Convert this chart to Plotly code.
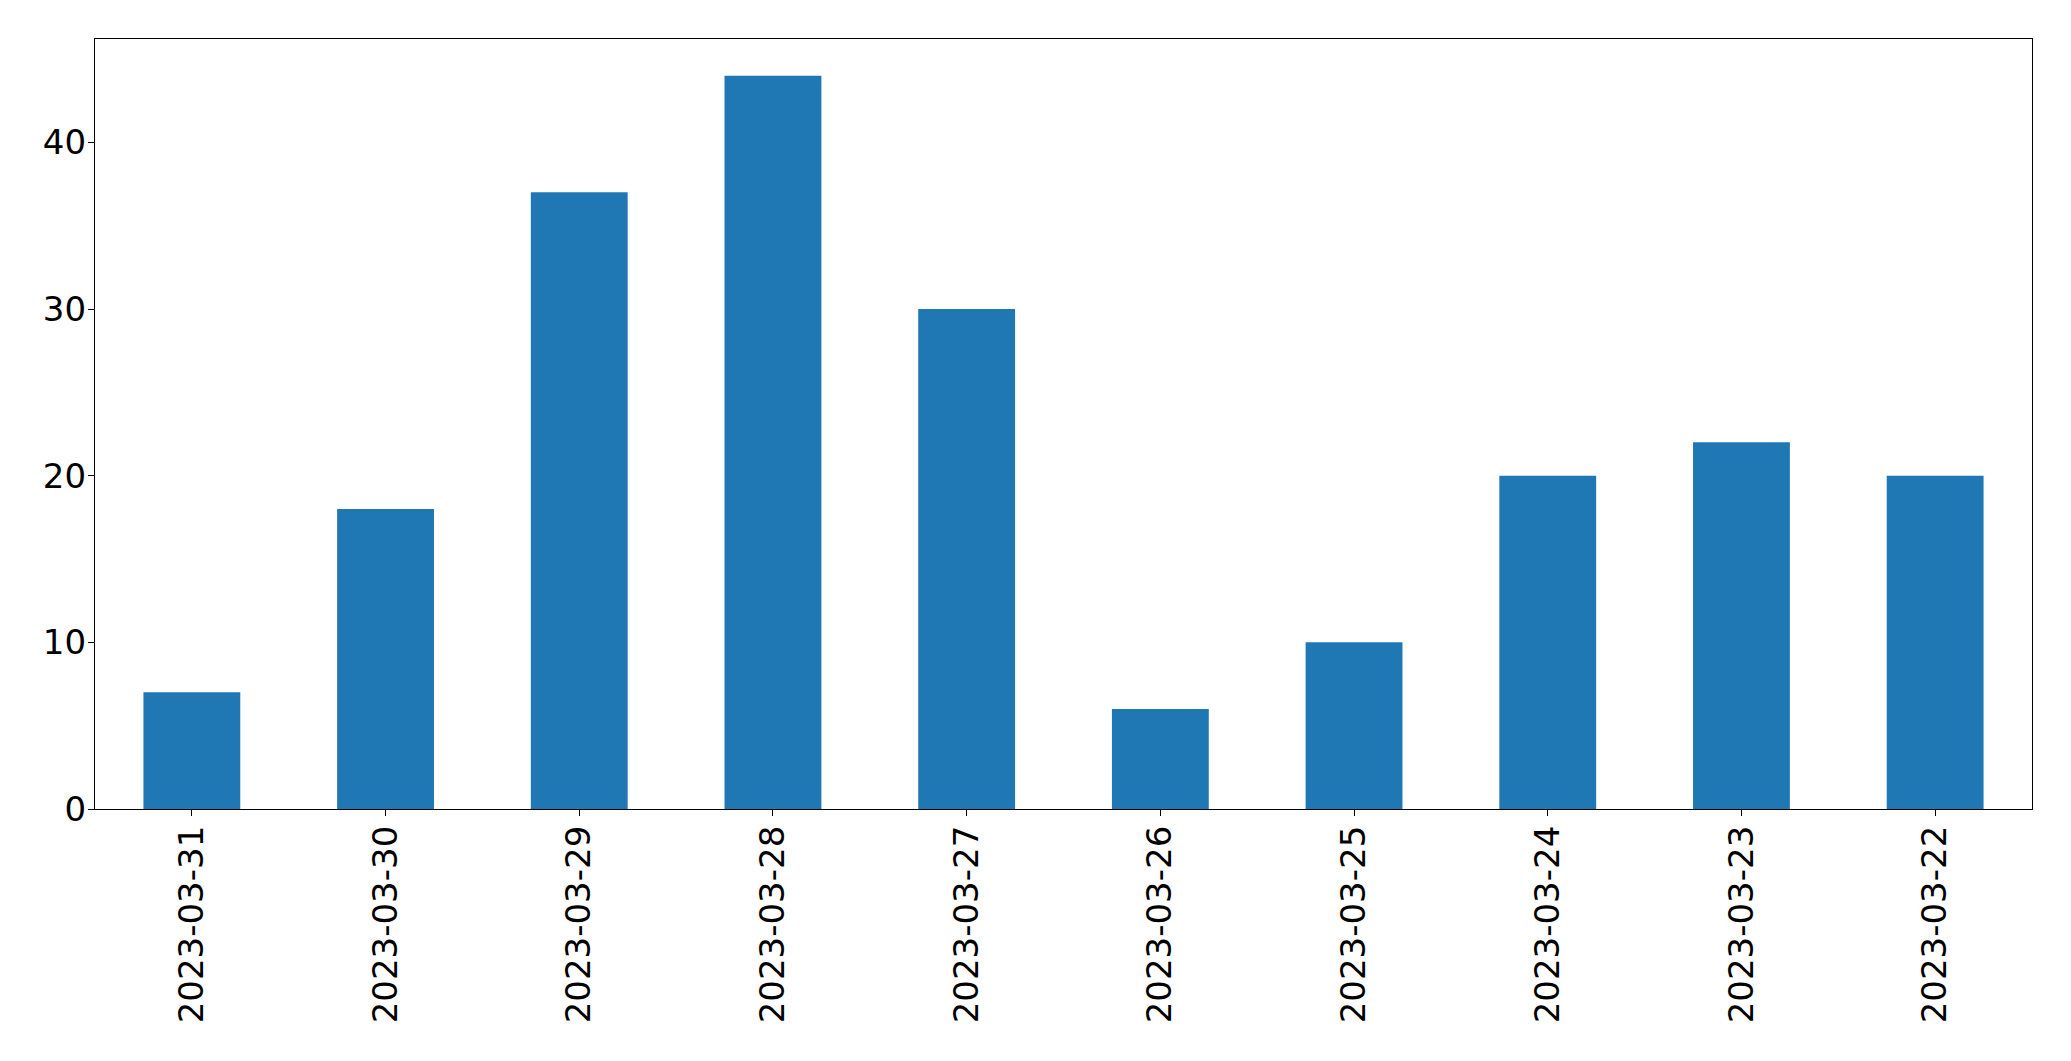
import plotly.graph_objects as go

dates = ["2023-03-31", "2023-03-30", "2023-03-29", "2023-03-28", "2023-03-27",
         "2023-03-26", "2023-03-25", "2023-03-24", "2023-03-23", "2023-03-22"]
counts = [7, 18, 37, 44, 30, 6, 10, 20, 22, 20]
y_ticks = [0, 10, 20, 30, 40]

fig = go.Figure(go.Bar(x=dates, y=counts, marker=dict(color="#1f77b4", line=dict(width=0)), width=0.5))

fig.update_layout(
    width=2071, height=1061,
    margin=dict(l=95, r=39, t=39, b=252),
    plot_bgcolor="white", paper_bgcolor="white",
    font=dict(family="DejaVu Sans", size=34, color="black"),
    showlegend=False,
)
fig.update_xaxes(type="category", range=[-0.5, 9.5], tickangle=-90,
                 showline=True, linecolor="black", linewidth=1.3, mirror=True,
                 ticks="outside", ticklen=6, tickcolor="black", showgrid=False,
                 ticklabelstandoff=-4)
fig.update_yaxes(range=[0, 46.2], tickvals=y_ticks,
                 showline=True, linecolor="black", linewidth=1.3, mirror=True,
                 ticks="outside", ticklen=6, tickcolor="black", showgrid=False, zeroline=False,
                 ticklabelstandoff=-5)

fig.write_html("out.html")
